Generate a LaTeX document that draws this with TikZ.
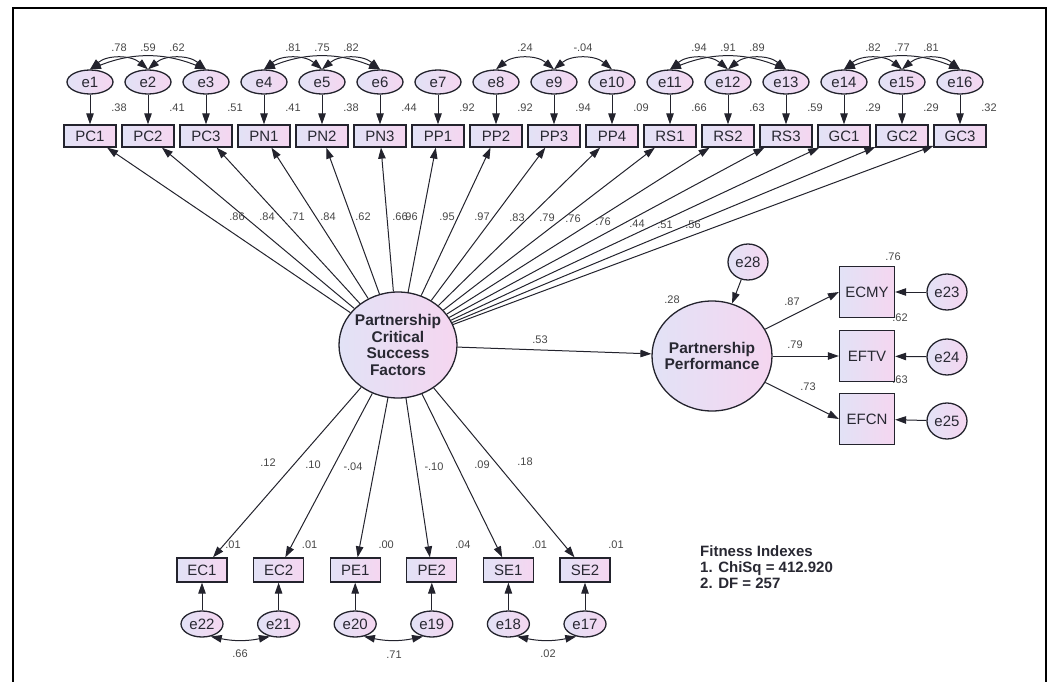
\documentclass[tikz,border=0pt]{standalone}
\usepackage{fontspec}
\setmainfont{Liberation Sans}
\usetikzlibrary{arrows.meta,shapes.geometric}
\definecolor{lavL}{RGB}{226,226,246}
\definecolor{lavR}{RGB}{245,214,240}
\definecolor{lineC}{RGB}{35,35,45}
\definecolor{numc}{RGB}{70,70,70}
\definecolor{txtc}{RGB}{40,40,50}
\begin{document}
\begin{tikzpicture}[x=1pt,y=1pt,
 obs/.style={draw=lineC,line width=1.3pt,left color=lavL,right color=lavR,minimum width=52pt,minimum height=22pt,inner sep=0pt,text=txtc,font=\fontsize{15}{15}\selectfont},
 outc/.style={draw=lineC,line width=1.3pt,left color=lavL,right color=lavR,minimum width=55pt,minimum height=51pt,inner sep=0pt,text=txtc,font=\fontsize{15}{15}\selectfont},
 err/.style={ellipse,draw=lineC,line width=1.3pt,left color=lavL,right color=lavR,minimum width=46pt,minimum height=24pt,inner sep=0pt,text=txtc,font=\fontsize{15}{15}\selectfont},
 errb/.style={ellipse,draw=lineC,line width=1.3pt,left color=lavL,right color=lavR,minimum width=40pt,minimum height=36pt,inner sep=0pt,text=txtc,font=\fontsize{15}{15}\selectfont},
 lat/.style={ellipse,draw=lineC,line width=1.3pt,left color=lavL,right color=lavR,inner sep=0pt},
 lattxt/.style={align=center,text=txtc,font=\bfseries\fontsize{15.5}{16.7}\selectfont},
 num/.style={font=\fontsize{11}{11}\selectfont,text=numc,inner sep=0pt},
 arr/.style={-{Triangle[length=11pt,width=7.5pt]},line width=1pt,draw=lineC},
 dbl/.style={{Triangle[length=11pt,width=7.5pt]}-{Triangle[length=11pt,width=7.5pt]},line width=1pt,draw=lineC},
]
\useasboundingbox (0,0) rectangle (1053,-682);
\draw[line width=2pt] (13,-682) -- (13,-8) -- (1046,-8) -- (1046,-682);

% central latent
\node[lat,minimum width=118pt,minimum height=106pt] (F) at (398,-345) {};
\node[lattxt] (Ft) at (F) {Partnership\\Critical\\Success\\Factors};
\node[lat,minimum width=120pt,minimum height=110pt] (P) at (712,-356) {};
\node[lattxt] (Pt) at (P) {Partnership\\Performance};

% top row
\foreach \lab/\sm [count=\i] in {PC1/.38,PC2/.41,PC3/.51,PN1/.41,PN2/.38,PN3/.44,PP1/.92,PP2/.92,PP3/.94,PP4/.09,RS1/.66,RS2/.63,RS3/.59,GC1/.29,GC2/.29,GC3/.32}{
  \pgfmathsetmacro\xx{90+58*(\i-1)}
  \node[obs] (b\i) at (\xx,-136) {\lab};
  \node[err] (e\i) at (\xx,-82) {e\i};
  \draw[arr] (e\i) -- (b\i);
  \node[num] at (\xx+29,-108) {\sm};
  \draw[arr] (F) -- (b\i);
}

% top covariances
\foreach \a/\b/\v/\bd in {1/2/.78/40,1/3/.59/22,2/3/.62/40,4/5/.81/40,4/6/.75/22,5/6/.82/40,8/9/.24/40,9/10/-.04/40,11/12/.94/40,11/13/.91/22,12/13/.89/40,14/15/.82/40,14/16/.77/22,15/16/.81/40}{
  \draw[dbl] (e\a.north) to[bend left=\bd] (e\b.north);
  \pgfmathsetmacro\mx{90+58*(\a+\b-2)/2}
  \node[num] at (\mx,-48) {\v};
}

% loadings top
\foreach \v/\x/\y in {.86/237/217,.84/267/217,.71/297/217,.84/328/217,.62/363/217,.66/400/217,.96/410/217,.95/447/217,.97/482/217,.83/517/218,.79/547/218,.76/573/219,.76/603/222,.44/637/224,.51/665/225,.56/693/225}{
  \node[num] at (\x,-\y) {\v};
}

% outcome side
\node[outc] (ECMY) at (867,-292) {ECMY};
\node[outc] (EFTV) at (867,-356) {EFTV};
\node[outc] (EFCN) at (867,-419) {EFCN};
\node[errb] (e23) at (947,-292) {e23};
\node[errb] (e24) at (947,-357) {e24};
\node[errb] (e25) at (947,-421) {e25};
\node[errb] (e28) at (748,-262) {e28};
\draw[arr] (F) -- (P);
\draw[arr] (e28) -- (P);
\draw[arr] (P) -- (ECMY.west);
\draw[arr] (P) -- (EFTV.west);
\draw[arr] (P) -- (EFCN.west);
\draw[arr] (e23) -- (ECMY);
\draw[arr] (e24) -- (EFTV);
\draw[arr] (e25) -- (EFCN);
\node[num] at (540,-340) {.53};
\node[num] at (672,-300) {.28};
\node[num] at (792,-302) {.87};
\node[num] at (795,-345) {.79};
\node[num] at (808,-387) {.73};
\node[num] at (893,-257) {.76};
\node[num] at (900,-318) {.62};
\node[num] at (900,-380) {.63};

% bottom row
\foreach \lab/\en/\sm/\ld/\lx/\ly [count=\i] in {EC1/22/.01/.12/268/463,EC2/21/.01/.10/313/465,PE1/20/.00/-.04/353/467,PE2/19/.04/-.10/434/467,SE1/18/.01/.09/482/465,SE2/17/.01/.18/525/462}{
  \pgfmathsetmacro\xx{202+76.6*(\i-1)}
  \node[obs,minimum width=50pt,minimum height=24pt] (c\i) at (\xx,-570) {\lab};
  \node[err,minimum width=42pt,minimum height=26pt] (e\en) at (\xx,-624) {e\en};
  \draw[arr] (e\en) -- (c\i);
  \draw[arr] (F) -- (c\i);
  \node[num] at (\xx+31,-545) {\sm};
  \node[num] at (\lx,-\ly) {\ld};
}
\draw[dbl] (e22.-55) to[bend right=12] (e21.-125);
\draw[dbl] (e20.-55) to[bend right=12] (e19.-125);
\draw[dbl] (e18.-55) to[bend right=12] (e17.-125);
\node[num] at (240,-654) {.66};
\node[num] at (394,-655) {.71};
\node[num] at (548,-654) {.02};

\node[anchor=north west,align=left,inner sep=0pt,text=txtc,font=\bfseries\fontsize{15}{16}\selectfont] (fit) at (700,-545) {Fitness Indexes\\1. ChiSq = 412.920\\2. DF = 257};
\end{tikzpicture}
\end{document}
